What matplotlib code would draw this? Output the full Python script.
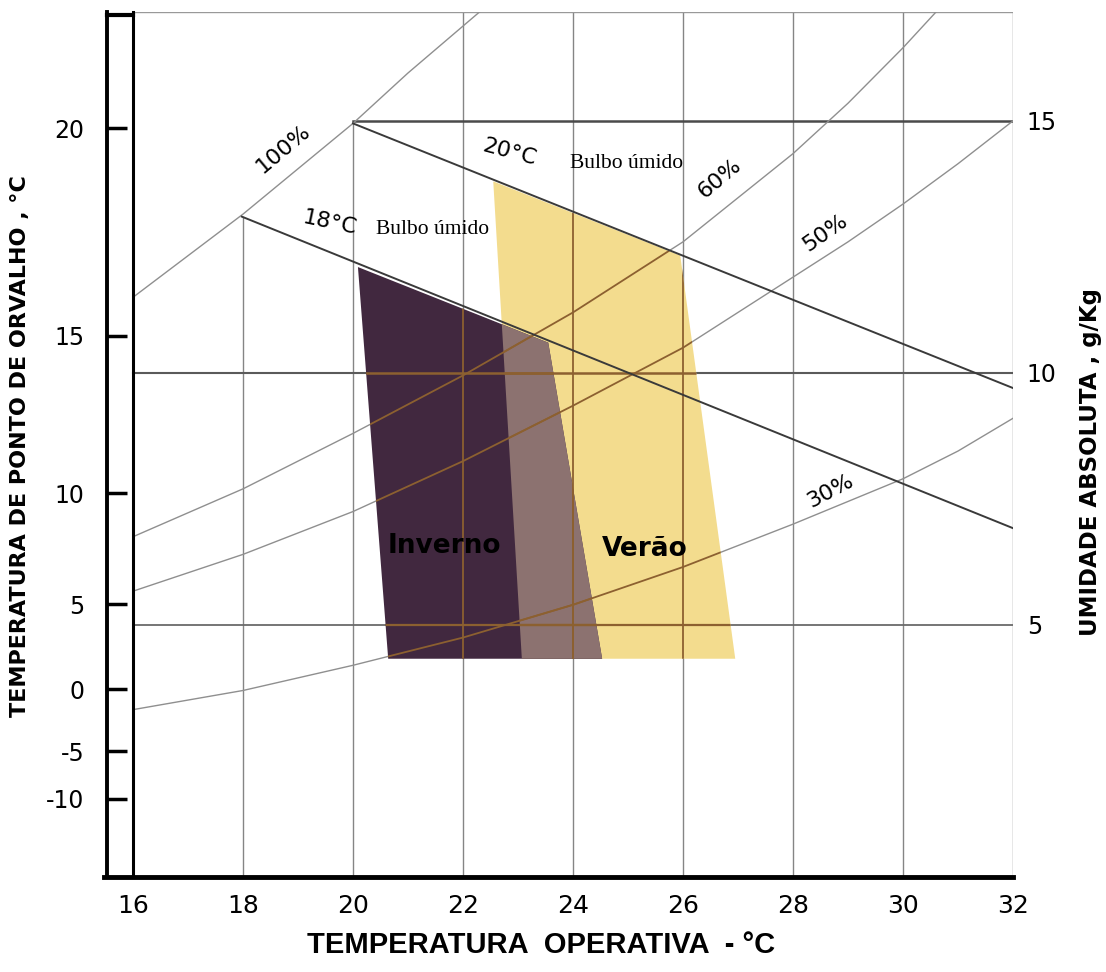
import matplotlib.pyplot as plt
from matplotlib.patches import Polygon

# ---- data (x: operative temp °C, y: absolute humidity g/kg) ----
x_ticks = [16, 18, 20, 22, 24, 26, 28, 30, 32]
dew_ticks = [14.85, 10.74, 7.61, 5.41, 3.72, 2.49, 1.55]   # where dew point labels sit
dew_labels = ['20', '15', '10', '5', '0', '-5', '-10']
abs_ticks = [5, 10, 15]

rh100_x = [16, 18, 20, 21, 22.3]
rh100_y = [11.5, 13.15, 14.95, 15.95, 17.16]
rh60_x = [16, 18, 20, 22, 24, 26, 28, 29, 30, 30.6]
rh60_y = [6.75, 7.7, 8.8, 9.95, 11.2, 12.6, 14.35, 15.35, 16.45, 17.16]
rh50_x = [16, 18, 20, 22, 24, 26, 28, 29, 30, 31, 32]
rh50_y = [5.67, 6.4, 7.25, 8.25, 9.35, 10.5, 11.9, 12.6, 13.35, 14.15, 15.0]
rh30_x = [16, 18, 20, 22, 24, 26, 28, 29, 30, 31, 32]
rh30_y = [3.32, 3.7, 4.2, 4.75, 5.4, 6.15, 7.0, 7.45, 7.9, 8.45, 9.1]

wb20_x = [20, 32]
wb20_y = [14.95, 9.7]
wb18_x = [17.98, 32]
wb18_y = [13.1, 6.92]

winter_x = [20.09, 23.55, 24.53, 20.64]
winter_y = [12.10, 10.60, 4.33, 4.33]
summer_x = [22.55, 25.95, 26.95, 23.07]
summer_y = [13.80, 12.33, 4.33, 4.33]

# ---- figure ----
fig = plt.figure(figsize=(11.06, 9.72), dpi=100)
ax = fig.add_axes([104 / 1106, 95 / 972, (1013 - 104) / 1106, (877 - 12) / 972])
x_left = 15.473
ax.set_xlim(x_left, 32)
ax.set_ylim(0, 17.16)
for s in ax.spines.values():
    s.set_visible(False)

grid_c = '#858585'
tint = '#8c6030'

# comfort zones
summer = Polygon(list(zip(summer_x, summer_y)), closed=True, fc='#f3dc8e', ec='none', zorder=3)
winter = Polygon(list(zip(winter_x, winter_y)), closed=True, fc='#41283f', ec='none', zorder=3)
ax.add_patch(summer)
ax.add_patch(winter)
overlap = Polygon(list(zip(summer_x, summer_y)), closed=True, fc='#8c7270', ec='none', zorder=3.5)
ax.add_patch(overlap)
overlap.set_clip_path(winter)


def line(x, y, color=grid_c, lw=1.0, tinted=True):
    ax.plot(x, y, color=color, lw=lw, zorder=2)
    if tinted:
        for p in (summer, winter):
            l, = ax.plot(x, y, color=tint, lw=lw + 0.3, zorder=5)
            l.set_clip_path(p)


# vertical grid lines
line([18, 18], [0, 13.1])
line([20, 20], [0, 14.95])
for xv in [22, 24, 26, 28, 30]:
    line([xv, xv], [0, 17.16])
line([32, 32], [0, 17.16], tinted=False)
# horizontal lines
line([16, 32], [5, 5], color='#6a6a6a', lw=1.3)
line([16, 32], [10, 10], color='#5a5a5a', lw=1.5)
line([20, 32], [15, 15], color='#4a4a4a', lw=1.8, tinted=False)
line([16, 32], [17.16, 17.16], color='#999999', lw=1.0, tinted=False)

# relative humidity curves
for cx, cy in [(rh100_x, rh100_y), (rh60_x, rh60_y), (rh50_x, rh50_y), (rh30_x, rh30_y)]:
    line(cx, cy, color='#8f8f8f', lw=1.0)

# wet bulb lines
ax.plot(wb20_x, wb20_y, color='#3a3a3a', lw=1.4, zorder=6)
ax.plot(wb18_x, wb18_y, color='#3a3a3a', lw=1.4, zorder=6)

# left box and bottom line
ax.plot([15.52, 15.52], [0, 17.16], color='black', lw=2.8, zorder=7, clip_on=False)
ax.plot([16, 16], [0, 17.16], color='black', lw=2.2, zorder=7, clip_on=False)
ax.plot([15.52, 16], [17.1, 17.1], color='black', lw=3, zorder=7, clip_on=False)
ax.hlines(dew_ticks, 15.52, 15.9, color='black', lw=2.5, zorder=7)
ax.plot([x_left, 32], [0, 0], color='black', lw=3.5, zorder=7, clip_on=False)

# ticks
ax.set_xticks(x_ticks)
ax.set_xticklabels([str(v) for v in x_ticks], fontsize=18)
ax.tick_params(axis='x', length=0, pad=12)
ax.set_yticks(dew_ticks)
ax.set_yticklabels(dew_labels, fontsize=17)
ax.tick_params(axis='y', length=0, pad=14)

ax2 = ax.twinx()
ax2.set_ylim(0, 17.16)
for s in ax2.spines.values():
    s.set_visible(False)
ax2.set_yticks(abs_ticks)
ax2.set_yticklabels([str(v) for v in abs_ticks], fontsize=17)
ax2.tick_params(axis='y', length=0, pad=10)

# axis titles
fig.text(541 / 1106, 1 - 945 / 972, 'TEMPERATURA  OPERATIVA  - °C', ha='center', va='center',
         fontsize=21, fontweight='bold', family='Liberation Sans')
fig.text(20 / 1106, 1 - 446 / 972, 'TEMPERATURA DE PONTO DE ORVALHO , °C', rotation=90,
         ha='center', va='center', fontsize=16, fontweight='bold')
fig.text(1091 / 1106, 1 - 462 / 972, 'UMIDADE ABSOLUTA , g/Kg', rotation=90,
         ha='center', va='center', fontsize=16.5, fontweight='bold')

# curve labels
lab = dict(ha='center', va='center', fontsize=16, zorder=8)
ax.text(18.73, 14.45, '100%', rotation=40, **lab)
ax.text(26.67, 13.86, '60%', rotation=40, **lab)
ax.text(28.58, 12.78, '50%', rotation=35, **lab)
ax.text(28.67, 7.65, '30%', rotation=28, **lab)
ax.text(22.85, 14.37, '20°C', rotation=-15, **lab)
ax.text(19.58, 12.98, '18°C', rotation=-12, **lab)
ax.text(24.97, 14.15, 'Bulbo úmido', ha='center', va='center', fontsize=15.5,
        family='Liberation Serif', zorder=8)
ax.text(21.44, 12.84, 'Bulbo úmido', ha='center', va='center', fontsize=15.5,
        family='Liberation Serif', zorder=8)

# zone labels
ax.text(21.67, 6.56, 'Inverno', ha='center', va='center', fontsize=19, fontweight='bold', zorder=8)
ax.text(25.31, 6.50, 'Verão', ha='center', va='center', fontsize=19, fontweight='bold', zorder=8)

fig.savefig('out.png', dpi=100)
